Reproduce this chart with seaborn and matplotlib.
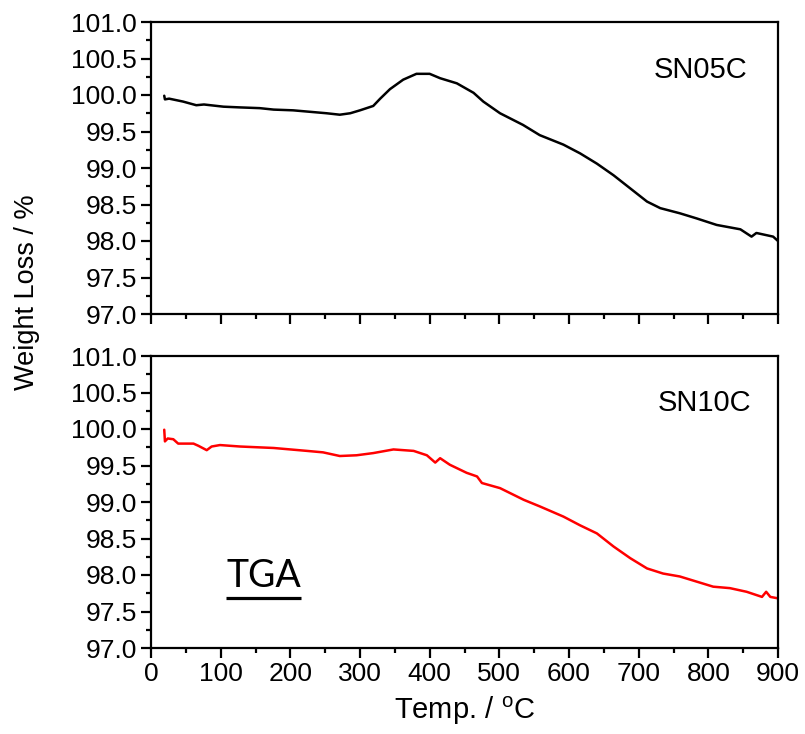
import numpy as np
import pandas as pd
import matplotlib
matplotlib.use("Agg")
import matplotlib.pyplot as plt
import seaborn as sns
from matplotlib.ticker import MultipleLocator, FormatStrFormatter
from matplotlib.lines import Line2D

# ---------------- data ----------------
temp_sn05 = [19, 20, 26, 46, 65, 76, 104, 128, 156, 176, 204, 228, 252, 271, 286,
             300, 319, 329, 343, 362, 381, 400, 415, 439, 463, 477, 501, 534, 558,
             592, 616, 640, 664, 688, 712, 731, 759, 783, 812, 846, 862, 869, 893, 900]
wt_sn05 = [99.99, 99.94, 99.95, 99.91, 99.86, 99.87, 99.84, 99.83, 99.82, 99.80, 99.79,
           99.77, 99.75, 99.73, 99.75, 99.79, 99.85, 99.95, 100.08, 100.21, 100.29,
           100.29, 100.23, 100.16, 100.03, 99.91, 99.75, 99.59, 99.45, 99.32, 99.20,
           99.06, 98.90, 98.72, 98.54, 98.45, 98.38, 98.31, 98.22, 98.16, 98.06,
           98.11, 98.06, 98.00]

temp_sn10 = [19, 20, 24, 32, 39, 61, 68, 80, 87, 99, 128, 152, 176, 200, 224, 247,
             271, 295, 319, 348, 377, 396, 408, 415, 429, 453, 468, 475, 501, 535,
             558, 592, 616, 640, 664, 688, 712, 735, 759, 783, 807, 831, 855, 877,
             883, 889, 900]
wt_sn10 = [99.99, 99.83, 99.87, 99.86, 99.80, 99.80, 99.77, 99.71, 99.76, 99.78,
           99.76, 99.75, 99.74, 99.72, 99.70, 99.68, 99.63, 99.64, 99.67, 99.72,
           99.70, 99.64, 99.54, 99.60, 99.51, 99.40, 99.35, 99.26, 99.19, 99.03,
           98.94, 98.80, 98.68, 98.57, 98.39, 98.23, 98.09, 98.02, 97.98, 97.91,
           97.84, 97.82, 97.77, 97.70, 97.77, 97.70, 97.68]

sample_names = ["SN05C", "SN10C"]
line_colors = ["#000000", "#ff0000"]
x_ticks = [0, 100, 200, 300, 400, 500, 600, 700, 800, 900]
y_ticks = [97.0, 97.5, 98.0, 98.5, 99.0, 99.5, 100.0, 100.5, 101.0]

# ---------------- style ----------------
sns.set_style("ticks")
plt.rcParams["font.family"] = ["Liberation Sans", "DejaVu Sans"]
plt.rcParams["text.color"] = "black"
plt.rcParams["axes.labelcolor"] = "black"
plt.rcParams["xtick.color"] = "black"
plt.rcParams["ytick.color"] = "black"
plt.rcParams["mathtext.fontset"] = "custom"
plt.rcParams["mathtext.rm"] = "Liberation Sans"
plt.rcParams["mathtext.it"] = "Liberation Sans:italic"
plt.rcParams["mathtext.bf"] = "Liberation Sans:bold"

fig = plt.figure(figsize=(8.05, 7.34), dpi=100)
left, width = 151 / 805, (778 - 151) / 805
ax_top = fig.add_axes([left, 1 - 314 / 734, width, (314 - 22) / 734])
ax_bot = fig.add_axes([left, 1 - 648 / 734, width, (648 - 356) / 734])

df05 = pd.DataFrame({"Temp": temp_sn05, "Weight": wt_sn05})
df10 = pd.DataFrame({"Temp": temp_sn10, "Weight": wt_sn10})

sns.lineplot(data=df05, x="Temp", y="Weight", ax=ax_top, color=line_colors[0],
             lw=1.8, sort=False, estimator=None)
sns.lineplot(data=df10, x="Temp", y="Weight", ax=ax_bot, color=line_colors[1],
             lw=1.8, sort=False, estimator=None)

tick_fs = 19
for ax in (ax_top, ax_bot):
    ax.set_xlim(x_ticks[0], x_ticks[-1])
    ax.set_ylim(y_ticks[0], y_ticks[-1])
    ax.set_xticks(x_ticks)
    ax.set_yticks(y_ticks)
    ax.xaxis.set_minor_locator(MultipleLocator(50))
    ax.yaxis.set_minor_locator(MultipleLocator(0.25))
    ax.yaxis.set_major_formatter(FormatStrFormatter("%.1f"))
    ax.tick_params(axis="both", which="major", direction="out", length=7, width=1.6,
                   labelsize=tick_fs, colors="black", pad=3)
    ax.tick_params(axis="both", which="minor", direction="out", length=3.6, width=1.6,
                   colors="black")
    ax.tick_params(top=False, right=False, which="both")
    for sp in ax.spines.values():
        sp.set_visible(True)
        sp.set_linewidth(1.6)
        sp.set_color("black")
    ax.set_xlabel("")
    ax.set_ylabel("")

ax_top.tick_params(labelbottom=False)

ax_top.text(789, 100.23, sample_names[0], fontsize=21, ha="center", va="baseline",
            color="black")
ax_bot.text(794, 100.25, sample_names[1], fontsize=21, ha="center", va="baseline",
            color="black")

ax_bot.set_xlabel("Temp. / $^{\\mathrm{o}}$C", fontsize=21, labelpad=6, color="black")
fig.text(26.7 / 805, 1 - 292.5 / 734, "Weight Loss / %", rotation=90,
         fontsize=19.5, ha="center", va="center", color="black")

tga = ax_bot.text(162, 97.84, "TGA", fontsize=27, family=["Lato", "DejaVu Sans"],
                  ha="center", va="baseline", color="black")

# underline under TGA, computed from the text extent
fig.canvas.draw()
bb = tga.get_window_extent(renderer=fig.canvas.get_renderer())
inv = ax_bot.transAxes.inverted()
(x0, y0), (x1, y1) = inv.transform([(bb.x0, bb.y0), (bb.x1, bb.y0)])
pad = 4 / ax_bot.bbox.height
ax_bot.add_line(Line2D([x0, x1], [y0 - pad, y0 - pad], transform=ax_bot.transAxes,
                       color="black", lw=2.3, solid_capstyle="butt"))

fig.savefig("out.png", dpi=100)
